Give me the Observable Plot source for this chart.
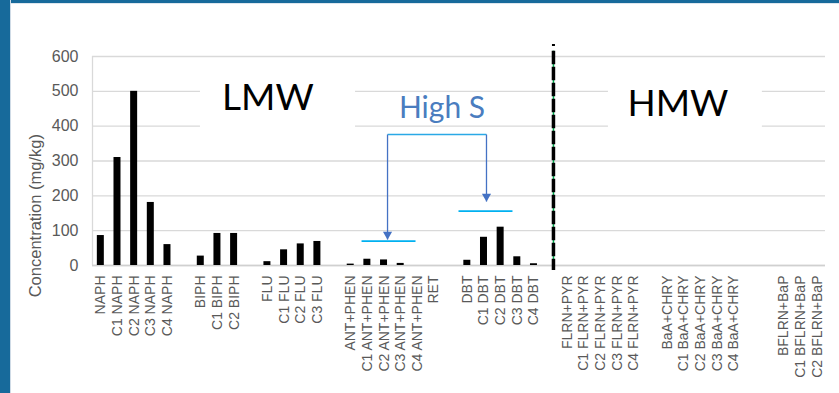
<!DOCTYPE html>
<html>
<head>
<meta charset="utf-8">
<script src="https://cdn.jsdelivr.net/npm/d3@7"></script>
<script src="https://cdn.jsdelivr.net/npm/@observablehq/plot@0.6"></script>
<style>
html, body { margin: 0; padding: 0; background: #ffffff; width: 839px; height: 393px; overflow: hidden; }
#wrap { position: relative; width: 839px; height: 393px; }
#chart { position: absolute; left: 0; top: 0; }
.bt { position: absolute; left: 0; top: 0; width: 839px; height: 3px; background: #176a9b; border-bottom: 1px solid #dde6ee; }
.bl { position: absolute; left: 0; top: 0; width: 10px; height: 393px; background: #176a9b; border-right: 1px solid #cfdbe6; }
</style>
</head>
<body>
<div id="wrap"><div id="chart"></div><div class="bt"></div><div class="bl"></div></div>
<script>
// ---- data ----
const categories = [
  "NAPH", "C1 NAPH", "C2 NAPH", "C3 NAPH", "C4 NAPH", "",
  "BIPH", "C1 BIPH", "C2 BIPH", "",
  "FLU", "C1 FLU", "C2 FLU", "C3 FLU", "",
  "ANT+PHEN", "C1 ANT+PHEN", "C2 ANT+PHEN", "C3 ANT+PHEN", "C4 ANT+PHEN", "RET", "",
  "DBT", "C1 DBT", "C2 DBT", "C3 DBT", "C4 DBT", "",
  "FLRN+PYR", "C1 FLRN+PYR", "C2 FLRN+PYR", "C3 FLRN+PYR", "C4 FLRN+PYR", "",
  "BaA+CHRY", "C1 BaA+CHRY", "C2 BaA+CHRY", "C3 BaA+CHRY", "C4 BaA+CHRY", "", "",
  "BFLRN+BaP", "C1 BFLRN+BaP", "C2 BFLRN+BaP"
];
const concentrations = [
  86, 310, 500, 181, 60, null,
  27, 92, 92, null,
  11, 45, 62, 69, null,
  4, 18, 16, 6, 0, 0, null,
  15, 81, 110, 25, 5, null,
  null, null, null, null, null, null,
  null, null, null, null, null, null, null,
  null, null, null
];
const yTicks = [0, 100, 200, 300, 400, 500, 600];
const yTitle = "Concentration (mg/kg)";

// annotations (x = category index, y = concentration)
const groupLabels = [
  {text: "LMW", x: 10.03, y: 479, x1: 5.98, x2: 15.29},
  {text: "HMW", x: 34.64, y: 464, x1: 30.47, x2: 39.71}
];
const highSLabel = [{text: "High S", x: 20.48, y: 451}];
const bracketTop = [{x1: 17.21, x2: 23.15, y: 376}];
const bracketDrops = [{x: 17.21, y1: 376, y2: 74.6}, {x: 23.15, y1: 376, y2: 183.7}];
const levelLines = [{x1: 15.65, x2: 18.89, y: 70}, {x1: 21.47, x2: 24.71, y: 156}];
const divider = {x: 27.17, top: 634.5, topEnd: 628.7, start: 615.2, end: -14.4};

const rows = categories.map((c, i) => ({i, c, v: concentrations[i]})).filter(d => d.v != null);

const chart = Plot.plot({
  width: 839,
  height: 393,
  marginLeft: 92,
  marginRight: 14,
  marginTop: 56,
  marginBottom: 128,
  style: {fontFamily: "'Liberation Sans', Arial, sans-serif", background: "transparent", color: "#595959", overflow: "visible"},
  x: {domain: [-0.5, categories.length - 0.5], axis: null},
  y: {domain: [0, 600], axis: null},
  marks: [
    Plot.gridY(yTicks, {stroke: "#d9d9d9", strokeOpacity: 1, strokeWidth: 1.3}),
    Plot.ruleX([-0.5], {y1: 0, y2: 600, stroke: "#d9d9d9", strokeWidth: 1.3}),
    Plot.ruleY([0], {stroke: "#d0d0d0", strokeWidth: 1.3}),
    Plot.axisY({ticks: yTicks, tickSize: 0, tickPadding: 14, fontSize: 16, fill: "#595959", label: null}),
    Plot.axisX({ticks: d3.range(categories.length), tickFormat: i => categories[i], tickRotate: -90, tickSize: 0, tickPadding: 10, fontSize: 14, fill: "#595959", label: null}),
    Plot.text([yTitle], {x: -3.92, y: 143, text: d => d, rotate: -90, fontSize: 16.5, fill: "#595959"}),
    Plot.rectY(rows, {x1: d => d.i - 0.21, x2: d => d.i + 0.21, y: "v", fill: "#000000"}),
    // white boxes behind group labels
    Plot.rect(groupLabels, {x1: "x1", x2: "x2", y1: 340, y2: 565, fill: "#ffffff"}),
    Plot.text(groupLabels, {x: "x", y: "y", text: "text", fontSize: 37, fontFamily: "Lato, 'Open Sans', sans-serif", fill: "#000000"}),
    // High S annotation
    Plot.text(highSLabel, {x: "x", y: "y", text: "text", fontSize: 30, fontFamily: "Lato, 'Open Sans', sans-serif", fill: "#4a7dbf"}),
    Plot.link(bracketTop, {x1: "x1", x2: "x2", y1: "y", y2: "y", stroke: "#2aa9e6", strokeWidth: 1.6}),
    Plot.link(bracketDrops, {x1: "x", x2: "x", y1: "y1", y2: "y2", stroke: "#4472c4", strokeWidth: 1.3}),
    Plot.dot(bracketDrops, {x: "x", y: "y2", symbol: "triangle", rotate: 180, r: 3.4, dy: -5, fill: "#4472c4", stroke: "none"}),
    Plot.link(levelLines, {x1: "x1", x2: "x2", y1: "y", y2: "y", stroke: "#00b0f0", strokeWidth: 1.6}),
    // LMW / HMW divider
    Plot.ruleX([divider], {x: "x", y1: "start", y2: "end", stroke: "#00b050", strokeWidth: 1.5}),
    Plot.ruleX([divider], {x: "x", y1: "start", y2: "end", stroke: "#000000", strokeWidth: 3.5, strokeDasharray: "13.5,2.5"}),
    Plot.ruleX([divider], {x: "x", y1: "top", y2: "topEnd", stroke: "#000000", strokeWidth: 3})
  ]
});
document.getElementById("chart").appendChild(chart);
</script>
</body>
</html>
